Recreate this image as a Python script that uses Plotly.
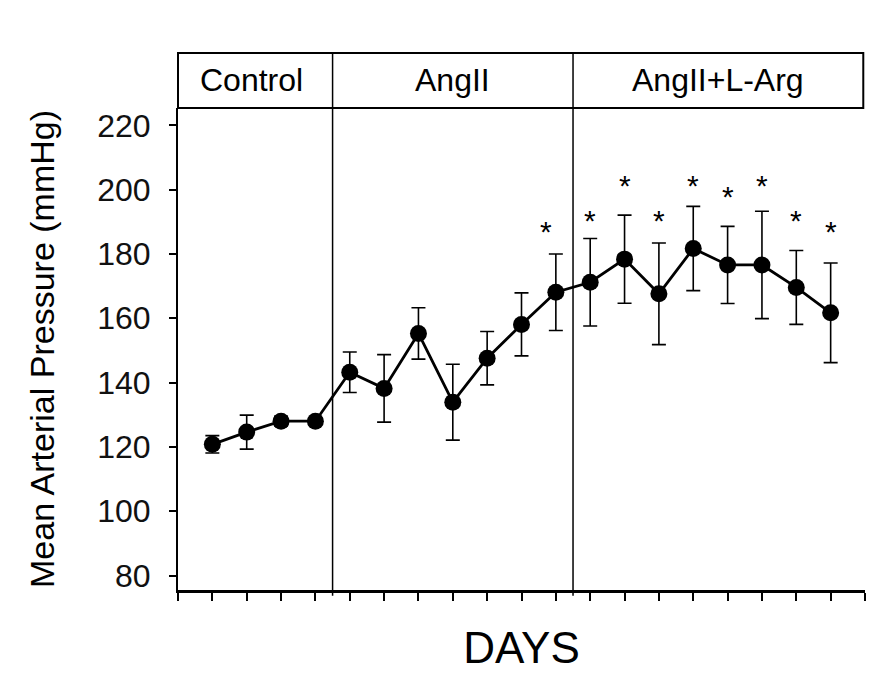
import plotly.graph_objects as go

# ---- data ----
days = list(range(1, 20))
mean_map = [120.8, 124.6, 128.0, 128.0, 143.2, 138.2, 155.3, 133.9, 147.6, 158.1,
            168.1, 171.2, 178.4, 167.6, 181.7, 176.6, 176.6, 169.6, 161.7]
sem_map = [2.7, 5.3, 1.5, 1.0, 6.3, 10.5, 8.0, 11.8, 8.3, 9.8,
           11.9, 13.6, 13.7, 15.8, 13.1, 12.0, 16.7, 11.5, 15.5]
sig_days = [11, 12, 13, 14, 15, 16, 17, 18, 19]
sig_level = [188.1, 191.8, 202.4, 191.8, 202.4, 199.0, 202.4, 191.8, 188.1]
phase_names = ["Control", "AngII", "AngII+L-Arg"]
phase_bounds = [0, 4.5, 11.5, 19.95]
y_ticks = [80, 100, 120, 140, 160, 180, 200, 220]
x_ticks = list(range(0, 21))

FONT = "Arial, Liberation Sans, sans-serif"
# page has an 8px body margin, so the figure is 8px smaller than the window
W, H = 877, 688
ML, MR, MT, MB = 170, 20, 100, 106
plot_h = H - MT - MB
box_top = 1 + 55 / plot_h

fig = go.Figure()
fig.add_trace(go.Scatter(
    x=days, y=mean_map, mode="lines+markers",
    line=dict(color="black", width=2.8),
    marker=dict(color="black", size=17),
    error_y=dict(type="data", array=sem_map, visible=True,
                 color="black", thickness=1.6, width=7),
    showlegend=False, hoverinfo="skip"))

annotations = []
for i, (d, lv) in enumerate(zip(sig_days, sig_level)):
    annotations.append(dict(x=d, y=lv, xref="x", yref="y", text="*",
                            showarrow=False, xshift=-10 if i == 0 else 0,
                            yshift=-4,
                            font=dict(family=FONT, size=30, color="black")))

shapes = [dict(type="rect", xref="paper", yref="paper", x0=0, x1=phase_bounds[-1] / 20,
               y0=1, y1=box_top, line=dict(color="black", width=2), layer="above")]
for b in phase_bounds[1:-1]:
    shapes.append(dict(type="line", xref="x", yref="paper", x0=b, x1=b,
                       y0=-0.012, y1=box_top, line=dict(color="black", width=1.5)))
for name, a, b in zip(phase_names, phase_bounds[:-1], phase_bounds[1:]):
    annotations.append(dict(x=(a + b) / 2, y=(1 + box_top) / 2, xref="x", yref="paper",
                            text=name, showarrow=False, yanchor="middle",
                            xshift=-4 if name == "Control" else 0,
                            font=dict(family=FONT, size=32, color="black")))

fig.update_layout(
    width=W, height=H,
    margin=dict(l=ML, r=MR, t=MT, b=MB, autoexpand=False),
    paper_bgcolor="white", plot_bgcolor="white",
    font=dict(family=FONT, color="black"),
    shapes=shapes, annotations=annotations,
    xaxis=dict(range=[0, 20], tickvals=x_ticks, showticklabels=False,
               ticks="outside", ticklen=8, tickwidth=1.5, tickcolor="black",
               showline=True, linewidth=3, linecolor="black",
               showgrid=False, zeroline=False, fixedrange=True,
               title=dict(text="DAYS", font=dict(family=FONT, size=44, color="black"),
                          standoff=33)),
    yaxis=dict(range=[75.5, 225.4], tickvals=y_ticks,
               ticks="outside", ticklen=7, tickwidth=1.5, tickcolor="black",
               tickfont=dict(family=FONT, size=32, color="#111"),
               ticklabelstandoff=12,
               showline=True, linewidth=2, linecolor="black",
               showgrid=False, zeroline=False, fixedrange=True,
               title=dict(text="Mean Arterial Pressure (mmHg)",
                          font=dict(family=FONT, size=34, color="black"),
                          standoff=32)),
)

fig.write_html("out.html")
